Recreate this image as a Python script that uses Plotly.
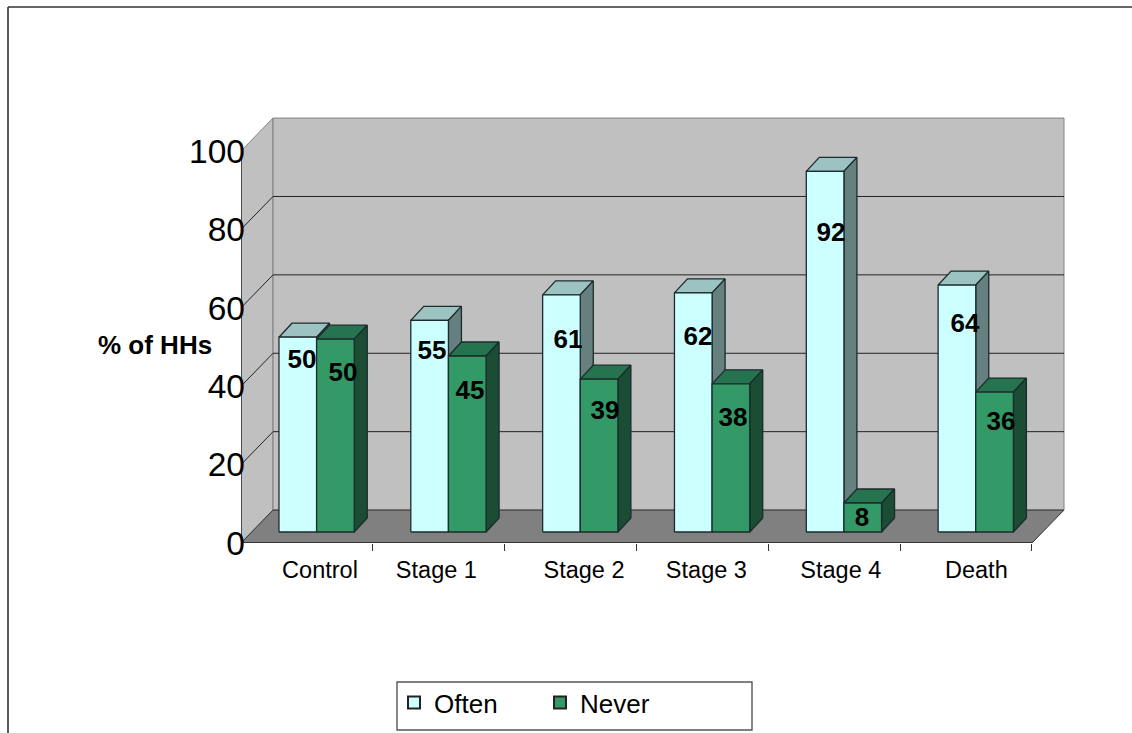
import plotly.graph_objects as go

categories = ["Control", "Stage 1", "Stage 2", "Stage 3", "Stage 4", "Death"]
# bar heights as drawn in the picture
often = [49.7, 54.0, 60.5, 61.0, 92.0, 63.0]
never = [49.2, 44.9, 39.0, 37.8, 7.4, 35.7]
# numbers printed on the bars
often_text = ["50", "55", "61", "62", "92", "64"]
never_text = ["50", "45", "39", "38", "8", "36"]
y_ticks = [0, 20, 40, 60, 80, 100]
# where the labels sit in the picture (category units / axis values)
often_label_x = [0.463, 1.449, 2.480, 3.467, 4.475, 5.492]
never_label_x = [0.774, 1.737, 2.761, 3.732, 4.711, 5.765]
often_label_y = [46.2, 48.7, 51.5, 52.1, 78.8, 55.6]
never_label_y = [42.9, 38.5, 33.2, 31.4, 6.1, 30.6]
cat_label_x = [0.599, 1.482, 2.602, 3.530, 4.550, 5.578]

W, H = 1132, 733
ML, MR, MT, MB = 241, 60, 110, 190
PX_X = 131.83
PX_Y = 3.92
XMAX = (W - ML - MR) / PX_X
YMAX = (H - MT - MB) / PX_Y
WALL_DX, WALL_DY = 0.243, 8.4
BAR_W = 0.2855
BAR_START = 0.288
BAR_LIFT = 2.8
DEPTH_DX, DEPTH_DY = 0.0986, 3.57
TICK_DX = 0.03
FONT = "Liberation Sans, Arial, sans-serif"
EDGE = "#1c2b2b"


def px(x):
    return (x - ML) / (W - ML - MR)


def py(y):
    return (H - MB - y) / (H - MT - MB)


def poly(fig, xs, ys, fill, line="#808080", width=1):
    fig.add_trace(go.Scatter(x=xs, y=ys, mode="lines", fill="toself", fillcolor=fill,
                             line=dict(color=line, width=width), hoverinfo="skip",
                             showlegend=False, cliponaxis=False))


def faces(values, slot):
    fx, fy, tx, ty, sx, sy = [], [], [], [], [], []
    for i, v in enumerate(values):
        a = i + BAR_START + slot * BAR_W
        b = a + BAR_W
        lo = BAR_LIFT
        hi = BAR_LIFT + v
        fx += [a, b, b, a, a, None]
        fy += [lo, lo, hi, hi, lo, None]
        tx += [a, b, b + DEPTH_DX, a + DEPTH_DX, a, None]
        ty += [hi, hi, hi + DEPTH_DY, hi + DEPTH_DY, hi, None]
        sx += [b, b + DEPTH_DX, b + DEPTH_DX, b, b, None]
        sy += [lo, lo + DEPTH_DY, hi + DEPTH_DY, hi, lo, None]
    return (tx, ty), (sx, sy), (fx, fy)


fig = go.Figure()
n = len(categories)

# walls and floor
poly(fig, [0, WALL_DX, WALL_DX, 0, 0], [0, WALL_DY, 100 + WALL_DY, 100, 0], "#C0C0C0")
poly(fig, [WALL_DX, n + WALL_DX, n + WALL_DX, WALL_DX, WALL_DX],
     [WALL_DY, WALL_DY, 100 + WALL_DY, 100 + WALL_DY, WALL_DY], "#C0C0C0")
poly(fig, [0, n, n + WALL_DX, WALL_DX, 0], [0, 0, WALL_DY, WALL_DY, 0], "#808080", "#333333")

# gridlines on both walls
gx, gy = [], []
for t in y_ticks[1:-1]:
    gx += [0, WALL_DX, n + WALL_DX, None]
    gy += [t, t + WALL_DY, t + WALL_DY, None]
fig.add_trace(go.Scatter(x=gx, y=gy, mode="lines", line=dict(color="#222222", width=1),
                         hoverinfo="skip", showlegend=False, cliponaxis=False))

# bars
for values, slot, cols in [
    (often, 0, ("#9CC2C2", "#668080", "#CCFFFF")),
    (never, 1, ("#267350", "#1A4D33", "#339966")),
]:
    for (xs, ys), col in zip(faces(values, slot), cols):
        poly(fig, xs, ys, col, EDGE, 1.3)

# front axis lines and value-axis ticks
ax_x, ax_y = [0, 0, None, 0, n, None], [100, 0, None, 0, 0, None]
for t in y_ticks:
    ax_x += [-TICK_DX, 0, None]
    ax_y += [t, t, None]
fig.add_trace(go.Scatter(x=ax_x, y=ax_y, mode="lines",
                         line=dict(color="#111111", width=1.2), hoverinfo="skip",
                         showlegend=False, cliponaxis=False))

# data labels
fig.add_trace(go.Scatter(x=often_label_x + never_label_x, y=often_label_y + never_label_y,
                         mode="text", text=often_text + never_text,
                         textfont=dict(family=FONT, size=26, color="#000000", weight="bold"),
                         textposition="middle center", hoverinfo="skip", showlegend=False,
                         cliponaxis=False))

# legend entries
for name, col in [("Often", "#CCFFFF"), ("Never", "#339966")]:
    fig.add_trace(go.Scatter(x=[None], y=[None], mode="markers", name=name,
                             marker=dict(symbol="square", size=12, color=col,
                                         line=dict(color="#222222", width=1))))

line_k = dict(type="line", xref="paper", yref="paper", layer="above")
fig.update_layout(
    width=W, height=H, autosize=False,
    margin=dict(l=ML, r=MR, t=MT, b=MB, autoexpand=False),
    paper_bgcolor="#FFFFFF", plot_bgcolor="rgba(0,0,0,0)",
    font=dict(family=FONT, color="#000000"),
    xaxis=dict(range=[0, XMAX], tickmode="array", tickvals=cat_label_x, ticktext=categories,
               ticks="", showgrid=False, zeroline=False, showline=False,
               tickfont=dict(size=23.5, family=FONT), ticklabelstandoff=10,
               minor=dict(tickmode="array", tickvals=list(range(n + 1)), ticks="outside",
                          ticklen=7, tickcolor="#333333", showgrid=False)),
    yaxis=dict(range=[0, YMAX], tickmode="array", tickvals=y_ticks,
               anchor="free", position=4 / (W - ML - MR),
               ticks="", showgrid=False, zeroline=False,
               showline=False, tickfont=dict(size=33.5, family=FONT)),
    legend=dict(orientation="h", xref="paper", yref="paper", x=px(394), y=py(679),
                xanchor="left", yanchor="top", bgcolor="rgba(0,0,0,0)", borderwidth=0,
                font=dict(size=26, family=FONT), entrywidth=101, entrywidthmode="pixels",
                itemsizing="constant", traceorder="normal"),
    annotations=[dict(text="<b>% of HHs</b>", xref="paper", yref="paper", x=px(155), y=py(345),
                      xanchor="center", yanchor="middle", showarrow=False,
                      font=dict(size=26, family=FONT, color="#000000"))],
    shapes=[
        dict(x0=px(8), x1=px(8), y0=py(7), y1=py(733), line=dict(color="#333333", width=1.6), **line_k),
        dict(x0=px(8), x1=px(1132), y0=py(7), y1=py(7), line=dict(color="#333333", width=1.6), **line_k),
        dict(type="rect", xref="paper", yref="paper", x0=px(397), x1=px(752), y0=py(682), y1=py(730),
             line=dict(color="#555555", width=1.4), fillcolor="rgba(0,0,0,0)", layer="below"),
    ],
)

fig.write_html("out.html", config={"displayModeBar": False},
               post_script="document.body.style.margin='0';document.body.style.overflow='hidden';")
